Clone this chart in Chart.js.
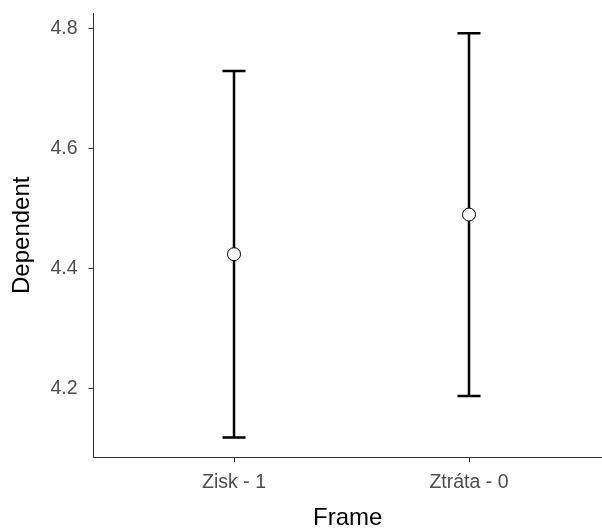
<!DOCTYPE html>
<html lang="cs">
<head>
  <meta charset="UTF-8">
  <title>Dependent by Frame</title>
  <style>
    html, body { margin: 0; padding: 0; background: #fff; overflow: hidden; }
    #wrap { width: 602px; height: 528px; position: relative; }
  </style>
</head>
<body>
  <div id="wrap"><canvas id="chart"></canvas></div>

  <script src="https://cdn.jsdelivr.net/npm/chart.js"></script>
  <script>
    // data
    const frames = ['Zisk - 1', 'Ztráta - 0'];
    const means = [4.424, 4.490];
    const lower = [4.119, 4.188];
    const upper = [4.729, 4.792];
    const yTicks = [4.2, 4.4, 4.6, 4.8];

    const FONT = "'Liberation Sans', Arial, sans-serif";

    // error bars are drawn underneath the mean points
    const errorBars = {
      id: 'errorBars',
      beforeDatasetsDraw(chart) {
        const ctx = chart.ctx;
        const xs = chart.scales.x, ys = chart.scales.y;
        ctx.save();
        ctx.strokeStyle = '#000';
        ctx.lineWidth = 2.5;
        ctx.lineCap = 'butt';
        frames.forEach((f, i) => {
          const px = xs.getPixelForValue(i + 1);
          const top = ys.getPixelForValue(upper[i]);
          const bot = ys.getPixelForValue(lower[i]);
          ctx.beginPath();
          ctx.moveTo(px, top); ctx.lineTo(px, bot);
          ctx.moveTo(px - 11.5, top); ctx.lineTo(px + 11.5, top);
          ctx.moveTo(px - 11.5, bot); ctx.lineTo(px + 11.5, bot);
          ctx.stroke();
        });
        ctx.restore();
      }
    };

    new Chart(document.getElementById('chart'), {
      type: 'scatter',
      data: {
        datasets: [{
          data: frames.map((f, i) => ({ x: i + 1, y: means[i] })),
          pointRadius: 6.5,
          pointHoverRadius: 6.5,
          pointBackgroundColor: '#fff',
          pointBorderColor: '#000',
          pointBorderWidth: 1
        }]
      },
      plugins: [errorBars],
      options: {
        responsive: true,
        maintainAspectRatio: false,
        animation: false,
        layout: { autoPadding: false, padding: { top: 13, right: 0, left: 0, bottom: 0 } },
        plugins: { legend: { display: false }, tooltip: { enabled: false } },
        scales: {
          x: {
            type: 'linear',
            min: 0.402,
            max: 2.566,
            afterBuildTicks: s => { s.ticks = frames.map((f, i) => ({ value: i + 1 })); },
            afterFit: s => { s.height = 70.5; s.paddingLeft = 0; s.paddingRight = 0; },
            ticks: {
              callback: v => frames[v - 1],
              color: '#4d4d4d',
              font: { family: FONT, size: 19.5 },
              padding: 8
            },
            grid: { drawOnChartArea: false, tickLength: 5, color: '#333', lineWidth: 1 },
            border: { color: '#333', width: 1 },
            title: {
              display: true, text: 'Frame', color: '#000',
              font: { family: FONT, size: 24 }, padding: { top: 0, bottom: -5 }
            }
          },
          y: {
            min: 4.0856,
            max: 4.8255,
            afterBuildTicks: s => { s.ticks = yTicks.map(v => ({ value: v })); },
            afterFit: s => { s.width = 93.5; s.paddingTop = 0; s.paddingBottom = 0; },
            ticks: {
              callback: v => v.toFixed(1),
              color: '#4d4d4d',
              font: { family: FONT, size: 19.5 },
              padding: 11
            },
            grid: { drawOnChartArea: false, tickLength: 5, color: '#333', lineWidth: 1 },
            border: { color: '#333', width: 1 },
            title: {
              display: true, text: 'Dependent', color: '#000',
              font: { family: FONT, size: 24 }, padding: { top: 8, bottom: 0 }
            }
          }
        }
      }
    });
  </script>
</body>
</html>
